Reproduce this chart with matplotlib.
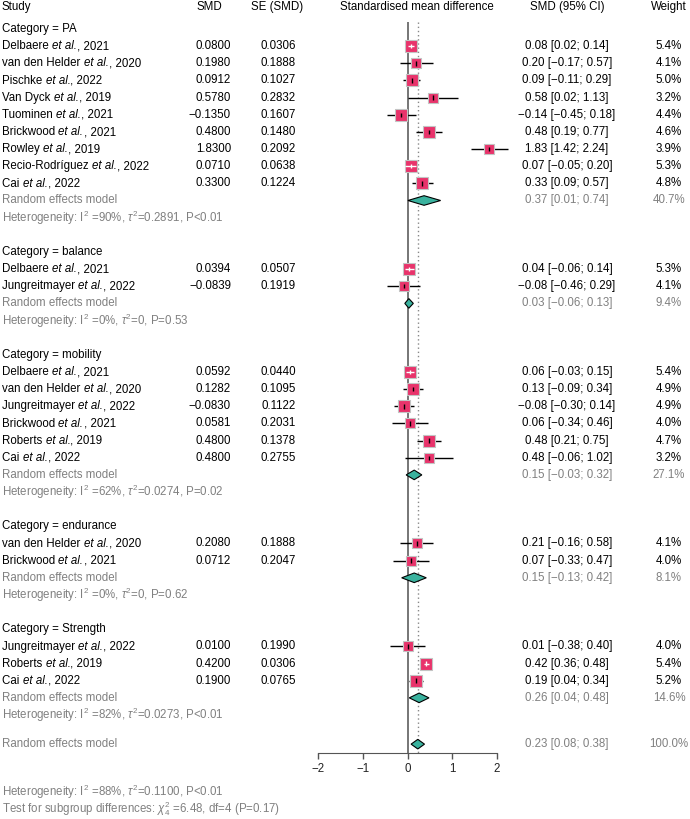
import numpy as np
import matplotlib
matplotlib.use("Agg")
import matplotlib.pyplot as plt
import matplotlib.transforms as mtransforms
from matplotlib.patches import Polygon

plt.rcParams['font.family'] = ['Liberation Sans', 'DejaVu Sans']
plt.rcParams['mathtext.fontset'] = 'custom'
plt.rcParams['mathtext.rm'] = 'Liberation Sans'
plt.rcParams['mathtext.it'] = 'Liberation Sans:italic'
plt.rcParams['mathtext.bf'] = 'Liberation Sans:bold'

# ---- data ----
categories = ["PA", "balance", "mobility", "endurance", "Strength"]

authors = [
    ["Delbaere", "van den Helder", "Pischke", "Van Dyck", "Tuominen",
     "Brickwood", "Rowley", "Recio-Rodríguez", "Cai"],
    ["Delbaere", "Jungreitmayer"],
    ["Delbaere", "van den Helder", "Jungreitmayer", "Brickwood", "Roberts", "Cai"],
    ["van den Helder", "Brickwood"],
    ["Jungreitmayer", "Roberts", "Cai"],
]
years = [
    [2021, 2020, 2022, 2019, 2021, 2021, 2019, 2022, 2022],
    [2021, 2022],
    [2021, 2020, 2022, 2021, 2019, 2022],
    [2020, 2021],
    [2022, 2019, 2022],
]
smd = [
    [0.0800, 0.1980, 0.0912, 0.5780, -0.1350, 0.4800, 1.8300, 0.0710, 0.3300],
    [0.0394, -0.0839],
    [0.0592, 0.1282, -0.0830, 0.0581, 0.4800, 0.4800],
    [0.2080, 0.0712],
    [0.0100, 0.4200, 0.1900],
]
se = [
    [0.0306, 0.1888, 0.1027, 0.2832, 0.1607, 0.1480, 0.2092, 0.0638, 0.1224],
    [0.0507, 0.1919],
    [0.0440, 0.1095, 0.1122, 0.2031, 0.1378, 0.2755],
    [0.1888, 0.2047],
    [0.1990, 0.0306, 0.0765],
]
ci_lo = [
    [0.02, -0.17, -0.11, 0.02, -0.45, 0.19, 1.42, -0.05, 0.09],
    [-0.06, -0.46],
    [-0.03, -0.09, -0.30, -0.34, 0.21, -0.06],
    [-0.16, -0.33],
    [-0.38, 0.36, 0.04],
]
ci_hi = [
    [0.14, 0.57, 0.29, 1.13, 0.18, 0.77, 2.24, 0.20, 0.57],
    [0.14, 0.29],
    [0.15, 0.34, 0.14, 0.46, 0.75, 1.02],
    [0.58, 0.47],
    [0.40, 0.48, 0.34],
]
weights = [
    [5.4, 4.1, 5.0, 3.2, 4.4, 4.6, 3.9, 5.3, 4.8],
    [5.3, 4.1],
    [5.4, 4.9, 4.9, 4.0, 4.7, 3.2],
    [4.1, 4.0],
    [4.0, 5.4, 5.2],
]
pooled_smd = [0.37, 0.03, 0.15, 0.15, 0.26]
pooled_lo = [0.01, -0.06, -0.03, -0.13, 0.04]
pooled_hi = [0.74, 0.13, 0.32, 0.42, 0.48]
pooled_w = [40.7, 9.4, 27.1, 8.1, 14.6]
het_i2 = ["90", "0", "62", "0", "82"]
het_tau2 = ["0.2891", "0", "0.0274", "0", "0.0273"]
het_p = ["P<0.01", "P=0.53", "P=0.02", "P=0.62", "P<0.01"]

overall_smd, overall_lo, overall_hi, overall_w = 0.23, 0.08, 0.38, 100.0
overall_het = ("88", "0.1100", "P<0.01")
subgroup_test = ("6.48", "4", "0.17")

# ---- styling ----
SQ_COL = "#E8336B"
DIA_COL = "#3AB29E"
GREY = "#808080"
FS = 8.3
W, H = 690, 819
ROW0, ROWH = 29, 17.15          # pixel y of first row, row height
PX_PER_UNIT = (497 - 318) / 4   # forest x scale


def fx(px):
    return px / W


def m(v, fmt="{:.2f}"):
    return fmt.format(v).replace("-", "\u2212")


def ci_text(e, lo, hi):
    return f"{m(e)} [{m(lo)}; {m(hi)}]"


fig = plt.figure(figsize=(W / 100, H / 100), dpi=100)
ax_bottom_px = 753
ax = fig.add_axes([fx(318), 1 - ax_bottom_px / H, fx(497 - 318), ax_bottom_px / H])
ax.set_xlim(-2, 2)
top_row = 1 - ROW0 / ROWH
bot_row = 1 + (ax_bottom_px - ROW0) / ROWH
ax.set_ylim(bot_row, top_row)
for s in ["top", "right", "left"]:
    ax.spines[s].set_visible(False)
ax.spines["bottom"].set_bounds(-2, 2)
ax.spines["bottom"].set_color("#555555")
ax.set_yticks([])
ax.set_xticks([-2, -1, 0, 1, 2])
ax.set_xticklabels([m(t, "{:d}") for t in [-2, -1, 0, 1, 2]])
ax.tick_params(axis="x", colors="#555555", labelcolor="#222222", labelsize=FS,
               length=4, width=1, pad=3)
ax.patch.set_alpha(0)

tr = mtransforms.blended_transform_factory(fig.transFigure, ax.transData)


def put(px, row, s, ha="left", color="black", va="center"):
    return ax.text(fx(px), row, s, transform=tr, ha=ha, va=va, fontsize=FS,
                   color=color, clip_on=False)


def put_study(px, row, author, year):
    # author, italic "et al.", then year - chained so spacing is natural
    t1 = put(px, row, author + " ", va="bottom")
    t2 = ax.annotate("et al.", xy=(1, 0), xycoords=t1, ha="left", va="bottom",
                     fontsize=FS, style="italic", annotation_clip=False)
    ax.annotate(f", {year}", xy=(1, 0), xycoords=t2, ha="left", va="bottom",
                fontsize=FS, annotation_clip=False)


X_STUDY, X_SMD, X_SE, X_FOREST, X_CI, X_W = 2, 231, 296, 417, 567, 669
X_SMD_H, X_SE_H = 209, 277

header_row = 1 - 22 / ROWH
put(X_STUDY, header_row, "Study")
put(X_SMD_H, header_row, "SMD", ha="center")
put(X_SE_H, header_row, "SE (SMD)", ha="center")
put(X_FOREST, header_row, "Standardised mean difference", ha="center")
put(X_CI, header_row, "SMD (95% CI)", ha="center")
put(X_W, header_row, "Weight", ha="center")

# reference lines
ax.vlines(0, 1 - 7 / ROWH, bot_row, color="#5f5f5f", lw=1.2, zorder=1)
ax.vlines(overall_smd, 1 - 7 / ROWH, bot_row, color="#888888", lw=1.0,
          linestyles=(0, (1, 2)), zorder=1)


def diamond(row, e, lo, hi, half=0.28):
    poly = Polygon([[lo, row], [e, row - half], [hi, row], [e, row + half]],
                   closed=True, facecolor=DIA_COL, edgecolor="black", lw=0.8,
                   zorder=4, clip_on=False)
    ax.add_patch(poly)


# text baseline offset: rows drawn with va=bottom sit slightly lower than va=center
BOT_SHIFT = 0.36

row = 1
for g, cat in enumerate(categories):
    put(X_STUDY, row, f"Category = {cat}")
    row += 1
    for i in range(len(smd[g])):
        e, lo, hi, w = smd[g][i], ci_lo[g][i], ci_hi[g][i], weights[g][i]
        put_study(X_STUDY, row + BOT_SHIFT, authors[g][i], years[g][i])
        put(X_SMD, row, m(e, "{:.4f}"), ha="right")
        put(X_SE, row, m(se[g][i], "{:.4f}"), ha="right")
        put(X_CI, row, ci_text(e, lo, hi), ha="center")
        put(X_W, row, f"{w:.1f}%", ha="center")

        side_px = 12.3 * np.sqrt(w / 5.4)
        half_x = side_px / 2 / PX_PER_UNIT
        inside = (lo >= e - half_x) and (hi <= e + half_x)
        lc = "white" if inside else "black"
        ax.scatter([e], [row], marker="s", s=(side_px * 0.72) ** 2, color=SQ_COL,
                   edgecolor="#c4c4c4", linewidth=0.8, zorder=3, clip_on=False)
        ax.hlines(row, lo, hi, color=lc, lw=1.0, zorder=4 if inside else 2,
                  clip_on=False)
        ax.vlines(e, row - 0.13, row + 0.13, color=lc, lw=1.0, zorder=5)
        row += 1
    put(X_STUDY, row, "Random effects model", color=GREY)
    put(X_CI, row, ci_text(pooled_smd[g], pooled_lo[g], pooled_hi[g]), ha="center", color=GREY)
    put(X_W, row, f"{pooled_w[g]:.1f}%", ha="center", color=GREY)
    diamond(row, pooled_smd[g], pooled_lo[g], pooled_hi[g])
    row += 1
    put(X_STUDY, row, r"Heterogeneity: $\mathrm{I}^2$ =" + het_i2[g] + r"%, $\tau^2$="
        + het_tau2[g] + ", " + het_p[g], color=GREY)
    row += 2

row_overall = row - 0.3
put(X_STUDY, row_overall, "Random effects model", color=GREY)
put(X_CI, row_overall, ci_text(overall_smd, overall_lo, overall_hi), ha="center", color=GREY)
put(X_W, row_overall, f"{overall_w:.1f}%", ha="center", color=GREY)
diamond(row_overall, overall_smd, overall_lo, overall_hi)

row_het = 1 + (792 - ROW0) / ROWH
put(X_STUDY, row_het, r"Heterogeneity: $\mathrm{I}^2$ =" + overall_het[0] + r"%, $\tau^2$="
    + overall_het[1] + ", " + overall_het[2], color=GREY)
put(X_STUDY, row_het + 1.0, r"Test for subgroup differences: $\chi^2_{" + subgroup_test[1]
    + "}$ =" + subgroup_test[0] + ", df=" + subgroup_test[1] + " (P=" + subgroup_test[2] + ")",
    color=GREY)

fig.savefig("out.png", dpi=100)
